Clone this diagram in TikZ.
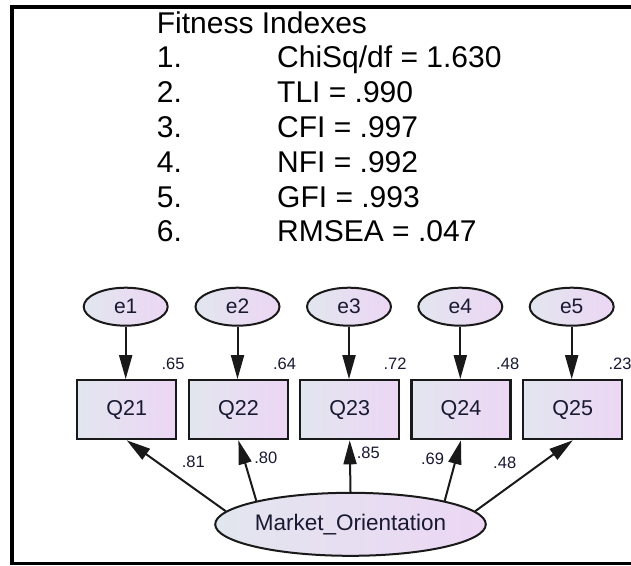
\documentclass[tikz,border=0pt]{standalone}
\usepackage{fontspec}
\setmainfont{Liberation Sans}
\usetikzlibrary{arrows.meta,shapes.geometric}
\definecolor{fillL}{RGB}{226,230,238}
\definecolor{fillR}{RGB}{236,214,244}
\definecolor{edge}{RGB}{25,25,25}
\definecolor{txt}{RGB}{25,25,50}
\begin{document}
\begin{tikzpicture}[x=1pt,y=-1pt,
  errvar/.style={ellipse, draw=edge, line width=2pt, left color=fillL, right color=fillR,
    inner sep=0pt, minimum width=84pt, minimum height=38pt,
    font=\fontsize{21}{24}\selectfont, text=txt},
  obsbox/.style={rectangle, draw=edge, line width=2.2pt, left color=fillL, right color=fillR,
    inner sep=0pt, minimum width=99pt, minimum height=59pt,
    font=\fontsize{21.5}{24}\selectfont, text=txt},
  latvar/.style={ellipse, draw=edge, line width=2pt, left color=fillL, right color=fillR,
    inner sep=0pt, minimum width=236pt, minimum height=63pt,
    font=\fontsize{22.5}{26}\selectfont, text=txt},
  pathline/.style={line width=2pt, draw=edge, -{Triangle[length=24pt,width=13pt]}},
  coef/.style={inner sep=0pt, font=\fontsize{16.5}{19}\selectfont, text=txt},
  fitline/.style={anchor=base west, inner sep=0pt, font=\fontsize{30}{34}\selectfont}
]
\useasboundingbox (0,0) rectangle (631,565);
\fill[white] (0,0) rectangle (631,565);
% frame
\fill[black] (10,4.7) rectangle (14,565);
\fill[black] (10,4.7) rectangle (631,8.7);
\fill[black] (10,561.7) rectangle (631,565);

% fitness text
\node[fitline] (t0) at (156.7,33.0) {Fitness Indexes};
\node[fitline] (n1) at (156.7,67.8) {1.};
\node[fitline] (n2) at (156.7,102.6) {2.};
\node[fitline] (n3) at (156.7,137.4) {3.};
\node[fitline] (n4) at (156.7,172.2) {4.};
\node[fitline] (n5) at (156.7,207.0) {5.};
\node[fitline] (n6) at (156.7,241.8) {6.};
\node[fitline] (v1) at (277,67.8) {ChiSq/df = 1.630};
\node[fitline] (v2) at (277,102.6) {TLI = .990};
\node[fitline] (v3) at (277,137.4) {CFI = .997};
\node[fitline] (v4) at (277,172.2) {NFI = .992};
\node[fitline] (v5) at (277,207.0) {GFI = .993};
\node[fitline] (v6) at (277,241.8) {RMSEA = .047};

% error variables
\node[errvar] (e1) at (125.7,306.7) {e1};
\node[errvar] (e2) at (237.5,306.7) {e2};
\node[errvar] (e3) at (349.0,306.7) {e3};
\node[errvar] (e4) at (460.3,306.7) {e4};
\node[errvar] (e5) at (571.7,306.7) {e5};

% observed
\node[obsbox] (q21) at (126.7,409.7) {Q21};
\node[obsbox] (q22) at (238.4,409.7) {Q22};
\node[obsbox] (q23) at (349.7,409.7) {Q23};
\node[obsbox] (q24) at (461.0,409.7) {Q24};
\node[obsbox] (q25) at (572.8,409.7) {Q25};

% latent
\node[latvar] (mo) at (350.5,524.3) {Market\_Orientation};

% error paths
\draw[pathline] (e1) -- (e1 |- q21.north);
\draw[pathline] (e2) -- (e2 |- q22.north);
\draw[pathline] (e3) -- (e3 |- q23.north);
\draw[pathline] (e4) -- (e4 |- q24.north);
\draw[pathline] (e5) -- (e5 |- q25.north);

% loadings
\draw[pathline] (mo.174) -- (q21.south);
\draw[pathline] (mo.166) -- (q22.south);
\draw[pathline] (mo.90) -- (q23.south);
\draw[pathline] (mo.14) -- (q24.south);
\draw[pathline] (mo.6) -- (q25.south);

% R-squared
\node[coef] (r1) at (173,364) {.65};
\node[coef] (r2) at (284.5,364) {.64};
\node[coef] (r3) at (395,364) {.72};
\node[coef] (r4) at (507.7,364) {.48};
\node[coef] (r5) at (620,364) {.23};

% loading values
\node[coef] (l1) at (193.3,461.7) {.81};
\node[coef] (l2) at (265.8,457.5) {.80};
\node[coef] (l3) at (368.3,452.5) {.85};
\node[coef] (l4) at (432.5,459) {.69};
\node[coef] (l5) at (504.7,462.7) {.48};
\end{tikzpicture}
\end{document}
